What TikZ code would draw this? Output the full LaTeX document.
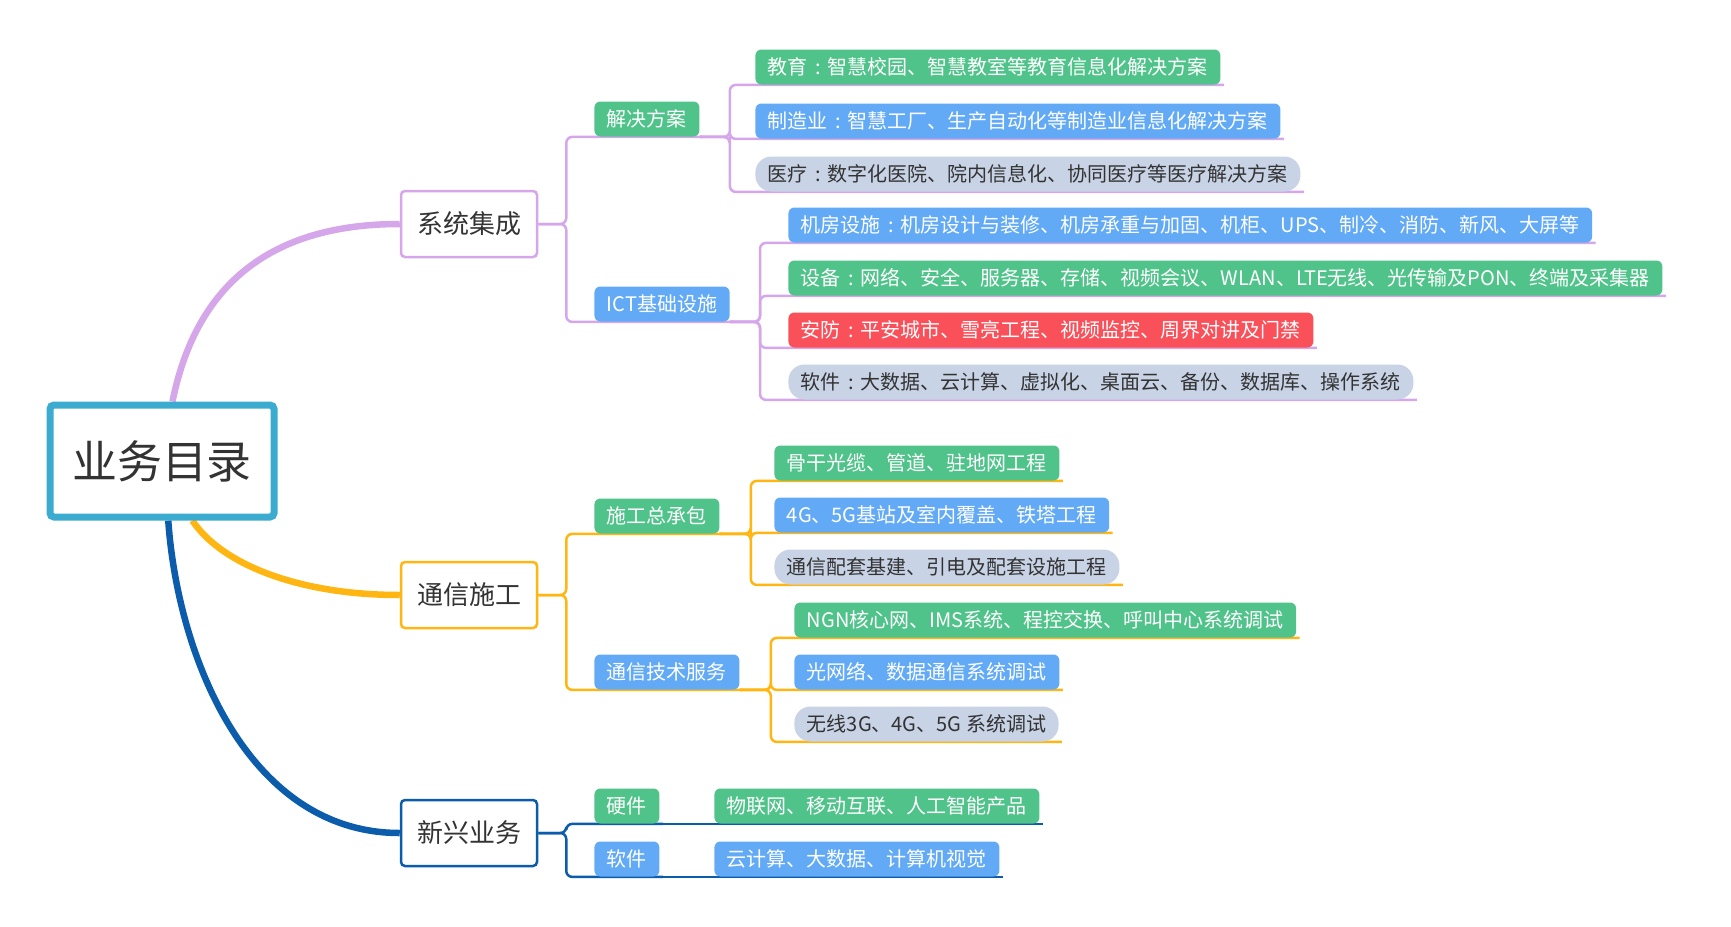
\documentclass[tikz,border=0pt]{standalone}
\usepackage{fontspec}
\setmainfont{Noto Sans CJK SC}
\usetikzlibrary{backgrounds}
\definecolor{lav}{HTML}{D5A6E9}
\definecolor{amber}{HTML}{FFB612}
\definecolor{navy}{HTML}{0B5CAB}
\definecolor{cyanroot}{HTML}{3BABD0}
\definecolor{leafgreen}{HTML}{50C38A}
\definecolor{leafblue}{HTML}{62AAF6}
\definecolor{leafred}{HTML}{FA505A}
\definecolor{pale}{HTML}{C8D3E6}
\definecolor{ink}{HTML}{333333}
\newcommand\kcolon{\makebox[1em][c]{:}}

\begin{document}
\begin{tikzpicture}[x=0.5pt,y=-0.5pt,
  box/.style={anchor=west,rounded corners=3pt,inner xsep=6.25pt,inner ysep=0pt,minimum height=17.5pt,font=\fontsize{10pt}{10pt}\selectfont,text=white},
  gbox/.style={box,fill=leafgreen},
  bbox/.style={box,fill=leafblue},
  rbox/.style={box,fill=leafred},
  pill/.style={box,rounded corners=8pt,fill=pale,text=ink},
  topic/.style={draw,line width=1.25pt,rounded corners=2pt,fill=white,minimum width=68pt,minimum height=33pt,font=\fontsize{13pt}{13pt}\selectfont,text=ink},
  link/.style={line width=1.25pt,rounded corners=3pt,shorten >=-1.5pt},
  curve/.style={line width=3.25pt}]
\useasboundingbox (0,0) rectangle (1731,927);

\node[draw=cyanroot,line width=3.5pt,rounded corners=2pt,fill=white,minimum width=112pt,minimum height=56pt,font=\fontsize{22.5pt}{22.5pt}\selectfont,text=ink] (root) at (162,461) {业务目录};

\node[topic,draw=lav] (xtjc) at (469,224) {系统集成};
\node[topic,draw=amber] (txsg) at (469,595) {通信施工};
\node[topic,draw=navy] (xxyw) at (469,833) {新兴业务};

\node[gbox] (jjfa) at (594,119) {解决方案};
\node[bbox] (ict) at (594,304) {ICT基础设施};
\node[gbox] (sgzcb) at (594,516) {施工总承包};
\node[bbox] (txjsfw) at (594,672) {通信技术服务};
\node[gbox] (yj) at (594,806) {硬件};
\node[bbox] (rj) at (594,859) {软件};

\node[gbox] (jy) at (755,67) {教育\kcolon 智慧校园、智慧教室等教育信息化解决方案};
\node[bbox] (zzy) at (755,121) {制造业\kcolon 智慧工厂、生产自动化等制造业信息化解决方案};
\node[pill] (yl) at (755,174) {医疗\kcolon 数字化医院、院内信息化、协同医疗等医疗解决方案};

\node[bbox] (jfss) at (788,225) {机房设施\kcolon 机房设计与装修、机房承重与加固、机柜、UPS、制冷、消防、新风、大屏等};
\node[gbox] (sb) at (788,278) {设备\kcolon 网络、安全、服务器、存储、视频会议、WLAN、LTE无线、光传输及PON、终端及采集器};
\node[rbox] (af) at (788,330) {安防\kcolon 平安城市、雪亮工程、视频监控、周界对讲及门禁};
\node[pill] (rjxt) at (788,382) {软件\kcolon 大数据、云计算、虚拟化、桌面云、备份、数据库、操作系统};

\node[gbox] (ggl) at (774,463) {骨干光缆、管道、驻地网工程};
\node[bbox] (jz) at (774,515) {4G、5G基站及室内覆盖、铁塔工程};
\node[pill] (ptjj) at (774,567) {通信配套基建、引电及配套设施工程};

\node[gbox] (ngn) at (794,620) {NGN核心网、IMS系统、程控交换、呼叫中心系统调试};
\node[bbox] (gwl) at (794,672) {光网络、数据通信系统调试};
\node[pill] (wxts) at (794,724) {无线3G、4G、5G 系统调试};

\node[gbox] (wlw) at (714,806) {物联网、移动互联、人工智能产品};
\node[bbox] (yjs) at (714,859) {云计算、大数据、计算机视觉};

\begin{scope}[on background layer]
\draw[curve,lav] (root.80) .. controls (195,290) and (265,224) .. (xtjc.west);
\draw[curve,amber] (root.-63) .. controls (222,565) and (300,595) .. (txsg.west);
\draw[curve,navy] (root.-84) .. controls (178,660) and (250,833) .. (xxyw.west);

\draw[link,lav] (xtjc.east) -- ++(28,0) |- (jjfa.south east);
\draw[link,lav] (xtjc.east) -- ++(28,0) |- (ict.south east);
\draw[link,lav] (jjfa.south east) -- ++(30,0) |- (jy.south east);
\draw[link,lav] (jjfa.south east) -- ++(30,0) |- (zzy.south east);
\draw[link,lav] (jjfa.south east) -- ++(30,0) |- (yl.south east);
\draw[link,lav] (ict.south east) -- ++(30,0) |- (jfss.south east);
\draw[link,lav] (ict.south east) -- ++(30,0) |- (sb.south east);
\draw[link,lav] (ict.south east) -- ++(30,0) |- (af.south east);
\draw[link,lav] (ict.south east) -- ++(30,0) |- (rjxt.south east);

\draw[link,amber] (txsg.east) -- ++(28,0) |- (sgzcb.south east);
\draw[link,amber] (txsg.east) -- ++(28,0) |- (txjsfw.south east);
\draw[link,amber] (sgzcb.south east) -- ++(31,0) |- (ggl.south east);
\draw[link,amber] (sgzcb.south east) -- ++(31,0) |- (jz.south east);
\draw[link,amber] (sgzcb.south east) -- ++(31,0) |- (ptjj.south east);
\draw[link,amber] (txjsfw.south east) -- ++(31,0) |- (ngn.south east);
\draw[link,amber] (txjsfw.south east) -- ++(31,0) |- (gwl.south east);
\draw[link,amber] (txjsfw.south east) -- ++(31,0) |- (wxts.south east);

\draw[link,navy] (xxyw.east) -- ++(28,0) |- (yj.south east);
\draw[link,navy] (xxyw.east) -- ++(28,0) |- (rj.south east);
\draw[link,navy] (yj.south east) -- (wlw.south east);
\draw[link,navy] (rj.south east) -- (yjs.south east);
\end{scope}
\end{tikzpicture}
\end{document}
